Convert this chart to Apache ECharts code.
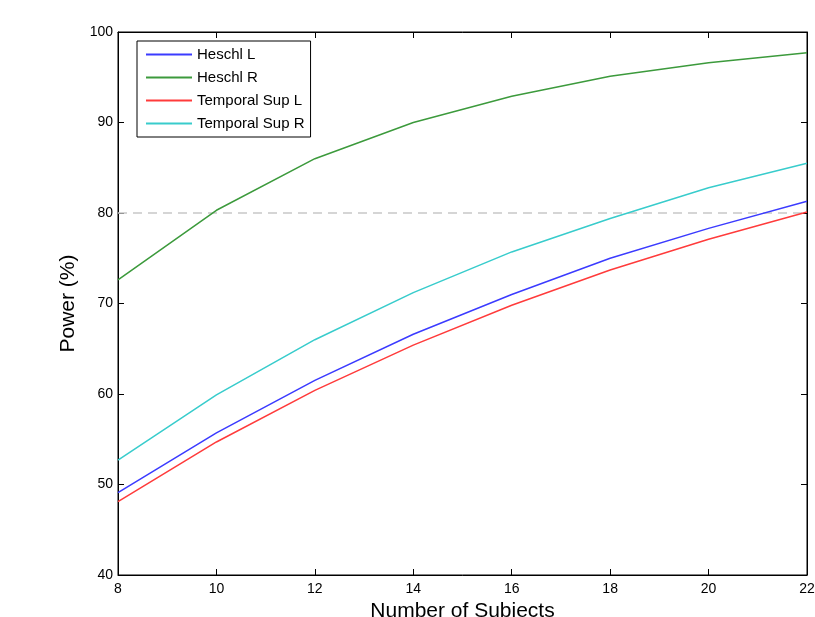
<!DOCTYPE html>
<html>
<head>
<meta charset="utf-8">
<script src="https://cdn.jsdelivr.net/npm/echarts@6/dist/echarts.min.js"></script>
<style>
  html, body { margin: 0; padding: 0; background: #fff; }
  #main { width: 815px; height: 617px; }
</style>
</head>
<body>
<div id="main"></div>
<script>
// subjects on x axis
const subjects = [8, 10, 12, 14, 16, 18, 20, 22];
// power (%) per region
const heschlL = [49.1, 55.7, 61.5, 66.6, 71.0, 75.0, 78.3, 81.3];
const heschlR = [72.6, 80.3, 86.0, 90.0, 92.9, 95.1, 96.6, 97.7];
const tempSupL = [48.1, 54.7, 60.4, 65.4, 69.8, 73.7, 77.1, 80.1];
const tempSupR = [52.7, 59.9, 66.0, 71.2, 75.7, 79.4, 82.8, 85.5];
const threshold = 80;

const names = ['Heschl L', 'Heschl R', 'Temporal Sup L', 'Temporal Sup R'];
const values = [heschlL, heschlR, tempSupL, tempSupR];
const colors = ['#3b3bff', '#3c9a3c', '#ff3b3b', '#38cccc'];

const font = 'Liberation Sans, Arial, sans-serif';

function pairs(ys) {
  return subjects.map((x, i) => [x, ys[i]]);
}

const series = values.map((ys, i) => ({
  name: names[i],
  type: 'line',
  data: pairs(ys),
  showSymbol: false,
  lineStyle: { color: colors[i], width: 1.5 },
  itemStyle: { color: colors[i] },
  animation: false
}));

// dashed 80% line
series.push({
  type: 'line',
  data: [[subjects[0], threshold], [subjects[subjects.length - 1], threshold]],
  showSymbol: false,
  lineStyle: { color: '#c8c8c8', width: 1.5, type: [9, 6] },
  z: 1,
  animation: false
});

const option = {
  backgroundColor: '#fff',
  animation: false,
  grid: {
    left: 118, right: 8, top: 32, bottom: 42,
    outerBoundsMode: 'none',
    containLabel: false,
    show: true, borderColor: '#000', borderWidth: 1
  },
  legend: {
    data: names,
    orient: 'vertical',
    left: 137, top: 41,
    padding: [6, 6, 6, 9],
    borderColor: '#000',
    borderWidth: 1,
    backgroundColor: '#fff',
    icon: 'rect',
    itemWidth: 46,
    itemHeight: 2,
    itemGap: 8,
    textStyle: { fontFamily: font, fontSize: 15, color: '#000' }
  },
  xAxis: [{
    type: 'value', min: 8, max: 22, interval: 2,
    name: 'Number of Subjects', nameLocation: 'middle', nameGap: 22,
    nameTextStyle: { fontFamily: font, fontSize: 21, color: '#000' },
    axisLine: { lineStyle: { color: '#000' } },
    axisTick: { inside: true, length: 6, lineStyle: { color: '#000' } },
    axisLabel: { fontFamily: font, fontSize: 14, color: '#000', margin: 7 },
    splitLine: { show: false }
  }, {
    type: 'value', min: 8, max: 22, interval: 2, position: 'top',
    axisLine: { lineStyle: { color: '#000' } },
    axisTick: { inside: true, length: 6, lineStyle: { color: '#000' } },
    axisLabel: { show: false },
    splitLine: { show: false }
  }],
  yAxis: [{
    type: 'value', min: 40, max: 100, interval: 10,
    name: 'Power (%)', nameLocation: 'middle', nameGap: 38,
    nameTextStyle: { fontFamily: font, fontSize: 21, color: '#000' },
    axisLine: { show: true, lineStyle: { color: '#000' } },
    axisTick: { show: true, inside: true, length: 6, lineStyle: { color: '#000' } },
    axisLabel: { fontFamily: font, fontSize: 14, color: '#000', margin: 5 },
    splitLine: { show: false }
  }, {
    type: 'value', min: 40, max: 100, interval: 10, position: 'right',
    axisLine: { show: true, lineStyle: { color: '#000' } },
    axisTick: { show: true, inside: true, length: 6, lineStyle: { color: '#000' } },
    axisLabel: { show: false },
    splitLine: { show: false }
  }],
  series: series
};

const myChart = echarts.init(document.getElementById('main'));
myChart.setOption(option);
</script>
</body>
</html>
